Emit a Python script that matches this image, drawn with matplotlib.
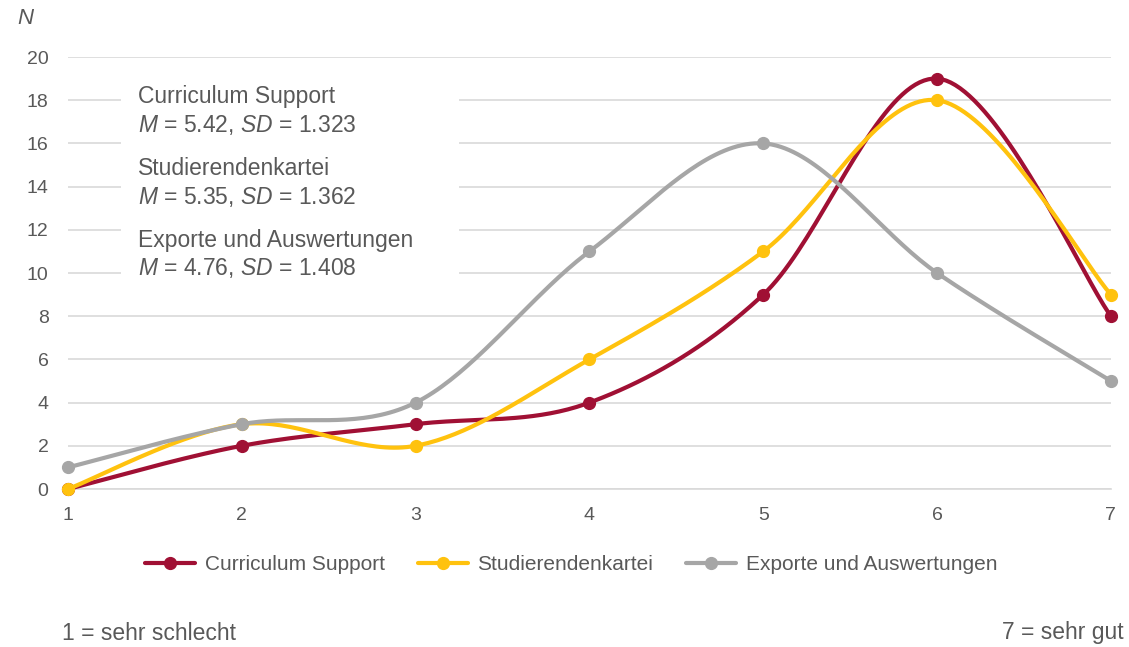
import numpy as np
import matplotlib

matplotlib.use("Agg")
import matplotlib.pyplot as plt
from matplotlib.patches import Rectangle

# data
ratings = [1, 2, 3, 4, 5, 6, 7]
curriculum = [0, 2, 3, 4, 9, 19, 8]
kartei = [0, 3, 2, 6, 11, 18, 9]
exporte = [1, 3, 4, 11, 16, 10, 5]
series_names = ["Curriculum Support", "Studierendenkartei", "Exporte und Auswertungen"]
stats = ["$M$ = 5.42, $SD$ = 1.323", "$M$ = 5.35, $SD$ = 1.362", "$M$ = 4.76, $SD$ = 1.408"]
y_ticks = [0, 2, 4, 6, 8, 10, 12, 14, 16, 18, 20]

colors = ["#A01034", "#FFC20E", "#A6A6A6"]
text_color = "#595959"
grid_color = "#D9D9D9"


def smooth(xs, ys, n=40):
    # Catmull-Rom style bezier, like Excel's smoothed lines
    p = np.column_stack([xs, ys]).astype(float)
    p_ext = np.vstack([p[0], p, p[-1]])
    out = []
    marks = []
    count = 0
    for i in range(len(p) - 1):
        p0, p1, p2, p3 = p_ext[i], p_ext[i + 1], p_ext[i + 2], p_ext[i + 3]
        c1 = p1 + (p2 - p0) / 6.0
        c2 = p2 - (p3 - p1) / 6.0
        t = np.linspace(0, 1, n, endpoint=False)[:, None]
        seg = ((1 - t) ** 3) * p1 + 3 * ((1 - t) ** 2) * t * c1 + 3 * (1 - t) * t ** 2 * c2 + t ** 3 * p2
        marks.append(count)
        count += len(seg)
        out.append(seg)
    out.append(p[-1][None, :])
    marks.append(count)
    pts = np.vstack(out)
    return pts[:, 0], pts[:, 1], marks


plt.rcParams["font.family"] = ["Liberation Sans", "DejaVu Sans"]
plt.rcParams["mathtext.fontset"] = "custom"
plt.rcParams["mathtext.rm"] = "Liberation Sans"
plt.rcParams["mathtext.it"] = "Liberation Sans:italic"

fig = plt.figure(figsize=(11.29, 6.47), dpi=100)
ax = fig.add_axes([0.0602, 0.2442, 0.9238, 0.6677])

for data, name, col in zip([curriculum, kartei, exporte], series_names, colors):
    sx, sy, marks = smooth(ratings, data)
    ax.plot(sx, sy, color=col, lw=3, marker="o", markersize=8.5,
            markevery=marks, label=name, solid_capstyle="round", zorder=3,
            clip_on=False)

ax.set_xlim(1, 7)
ax.set_ylim(0, 20)
ax.set_yticks(y_ticks)
ax.set_xticks(ratings)
ax.yaxis.grid(True, color=grid_color, lw=1.2, zorder=0)
ax.set_axisbelow(True)
for side in ["top", "right", "left"]:
    ax.spines[side].set_visible(False)
ax.spines["bottom"].set_color(grid_color)
ax.spines["bottom"].set_linewidth(1.2)
ax.tick_params(axis="both", length=0, labelsize=14, colors=text_color)
ax.tick_params(axis="y", pad=14)
ax.tick_params(axis="x", pad=13)

# white box behind the stats text
ax.add_patch(Rectangle((0.051, 0.44), 0.324, 0.52, transform=ax.transAxes,
                       facecolor="white", edgecolor="none", zorder=1))

W, H = 1129.0, 647.0
y_px = [96, 125, 168, 197, 240, 268]
for i in range(3):
    fig.text(138 / W, 1 - y_px[2 * i] / H, series_names[i], fontsize=16.5,
             color=text_color, va="center", ha="left")
    fig.text(138 / W, 1 - y_px[2 * i + 1] / H, stats[i], fontsize=16.5,
             color=text_color, va="center", ha="left")

fig.text(17 / W, 1 - 18 / H, "N", fontsize=16, style="italic", color=text_color,
         va="center", ha="left")

fig.legend(loc="center", bbox_to_anchor=(0.506, 1 - 565 / H), ncol=3, frameon=False,
           fontsize=15, handlelength=2.4, handletextpad=0.45, columnspacing=1.6,
           labelcolor=text_color)

fig.text(62 / W, 1 - 633 / H, "1 = sehr schlecht", fontsize=16.5, color=text_color,
         va="center", ha="left")
fig.text(1124 / W, 1 - 633 / H, "7 = sehr gut", fontsize=16.5, color=text_color,
         va="center", ha="right")

fig.savefig("out.png", dpi=100)
